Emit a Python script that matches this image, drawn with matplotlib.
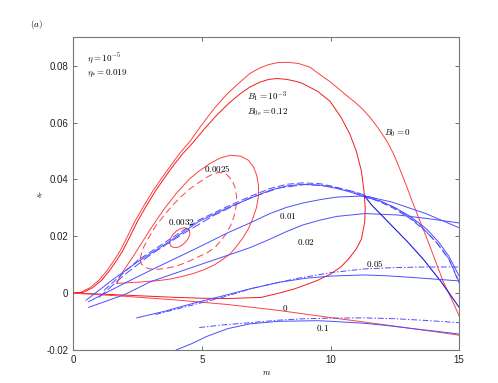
import matplotlib
matplotlib.use('Agg')
import matplotlib.pyplot as plt

plt.rcParams['mathtext.fontset'] = 'cm'
plt.rcParams['font.family'] = ['Liberation Sans', 'DejaVu Sans']

# red curves
m_b0 = [0, 0.3, 0.65, 1.0, 1.3, 1.55, 1.82, 2.1, 2.4, 2.75, 3.1, 3.45, 3.8, 4.15, 4.54,
        5.0, 5.5, 6.0, 6.45, 6.87, 7.25, 7.6, 7.95, 8.34, 8.75, 9.2, 9.6, 9.98, 10.3,
        10.6, 10.95, 11.26, 11.55, 11.85, 12.19, 12.45, 12.7, 12.95, 13.16, 13.45,
        13.74, 14.05, 14.37, 14.7, 15.0]
s_b0 = [0, 0.0003, 0.0019, 0.0045, 0.0078, 0.011, 0.0148, 0.0198, 0.0253, 0.0308,
        0.036, 0.0406, 0.045, 0.0493, 0.0534, 0.0593, 0.0652, 0.0702, 0.074, 0.0773,
        0.0792, 0.0804, 0.0811, 0.0812, 0.0808, 0.0795, 0.0768, 0.0744, 0.072, 0.0697,
        0.0672, 0.0646, 0.0617, 0.0581, 0.0535, 0.049, 0.0435, 0.0378, 0.0326, 0.026,
        0.0194, 0.012, 0.0043, -0.002, -0.008]

m_b1 = [0, 0.4, 0.75, 1.1, 1.4, 1.65, 1.92, 2.2, 2.5, 2.85, 3.2, 3.55, 3.9, 4.25, 4.64,
        5.1, 5.6, 6.1, 6.5, 6.87, 7.25, 7.6, 7.92, 8.3, 8.7, 8.9, 9.5, 9.98, 10.4, 10.75,
        11.0, 11.2, 11.3, 11.35, 11.33, 11.2, 11.0, 10.7, 10.4, 10.0, 9.5, 9.0, 8.6,
        8.0, 7.3, 6.0, 5.0, 4.0, 3.0, 2.0, 1.0, 0]
s_b1 = [0, 0.0003, 0.0019, 0.0045, 0.0078, 0.011, 0.0148, 0.0198, 0.0253, 0.0308,
        0.036, 0.0406, 0.045, 0.049, 0.0528, 0.0578, 0.0628, 0.0672, 0.0702, 0.0725,
        0.0742, 0.0752, 0.0755, 0.0752, 0.0744, 0.0738, 0.071, 0.0675, 0.062, 0.056,
        0.05, 0.043, 0.036, 0.03, 0.025, 0.019, 0.0155, 0.012, 0.0092, 0.0067, 0.0045,
        0.0028, 0.0015, 0.0, -0.0015, -0.0019, -0.0018, -0.0015, -0.0011, -0.0007,
        -0.0003, 0]

m_r25 = [1.7, 1.8, 2.0, 2.3, 2.65, 3.0, 3.5, 4.0, 4.5, 4.9, 5.3, 5.7, 6.1, 6.5, 6.8, 7.0,
         7.13, 7.2, 7.2, 7.12, 6.97, 6.8, 6.6, 6.35, 6.1, 5.8, 5.5, 5.1, 4.7, 4.2, 3.8,
         3.4, 3.0, 2.6, 2.2, 1.9, 1.7]
s_r25 = [0.0035, 0.0055, 0.0085, 0.0125, 0.0175, 0.0225, 0.0292, 0.035, 0.04, 0.043,
         0.0455, 0.0475, 0.0485, 0.0482, 0.0468, 0.0445, 0.0415, 0.038, 0.034, 0.03,
         0.026, 0.0225, 0.0195, 0.0165, 0.0138, 0.0118, 0.01, 0.0083, 0.007, 0.0058,
         0.005, 0.0045, 0.0042, 0.0039, 0.0037, 0.0035, 0.0035]

m_d25 = [2.6, 2.7, 2.9, 3.2, 3.5, 3.85, 4.2, 4.55, 4.9, 5.2, 5.45, 5.7, 5.95, 6.15, 6.28,
         6.35, 6.33, 6.25, 6.12, 5.95, 5.75, 5.5, 5.2, 4.8, 4.4, 4.0, 3.6, 3.3, 3.0, 2.8,
         2.65, 2.6]
s_d25 = [0.012, 0.0155, 0.019, 0.0235, 0.027, 0.0308, 0.034, 0.0368, 0.039, 0.0408,
         0.042, 0.0425, 0.0418, 0.04, 0.0375, 0.034, 0.0305, 0.027, 0.0238, 0.021,
         0.0185, 0.016, 0.0142, 0.0125, 0.0108, 0.0095, 0.0087, 0.0084, 0.0085, 0.009,
         0.0102, 0.012]

m_r32 = [3.75, 3.78, 3.88, 4.02, 4.18, 4.33, 4.45, 4.52, 4.53, 4.47, 4.36, 4.22, 4.06,
         3.92, 3.8, 3.75]
s_r32 = [0.0175, 0.0192, 0.0207, 0.0219, 0.0227, 0.023, 0.0227, 0.0219, 0.0206, 0.0192,
         0.0179, 0.0168, 0.0161, 0.016, 0.0165, 0.0175]

m_zero = [0, 2, 4, 6, 8, 10, 12, 14, 15]
s_zero = [0, -0.0011, -0.0024, -0.004, -0.0061, -0.0086, -0.011, -0.0135, -0.0148]

# blue curves
m_a1 = [0.5, 1.5, 2.5, 3.76, 4.9, 6.0, 6.87, 7.65, 8.3, 8.93, 9.6, 10.25, 10.8, 11.34,
        11.9, 12.42, 13.1, 13.74, 14.2, 14.6, 15.0]
s_a1 = [-0.0025, 0.0045, 0.011, 0.0183, 0.0253, 0.030, 0.0333, 0.0362, 0.0377, 0.0383,
        0.038, 0.0368, 0.0355, 0.0338, 0.0325, 0.0305, 0.027, 0.0225, 0.018, 0.013, 0.006]

m_a2 = [1.2, 2.5, 3.76, 4.9, 6.0, 6.87, 7.65, 8.3, 8.93, 9.6, 10.25, 10.8, 11.34, 11.9,
        12.42, 13.1, 13.74, 14.2, 14.6, 15.0]
s_a2 = [0.001, 0.0115, 0.019, 0.0258, 0.0305, 0.034, 0.0368, 0.0383, 0.0388, 0.0385,
        0.0372, 0.0358, 0.034, 0.0322, 0.03, 0.0262, 0.0215, 0.017, 0.012, 0.004]

m_a3 = [1.0, 2.0, 3.0, 4.2, 5.5, 6.87, 8.0, 9.0, 10.0, 11.0, 11.8, 12.6, 13.4, 14.1,
        14.6, 15.0]
s_a3 = [-0.0015, 0.0065, 0.0135, 0.0205, 0.0275, 0.0335, 0.037, 0.0382, 0.0376,
        0.0355, 0.033, 0.0295, 0.0245, 0.018, 0.012, 0.0035]

m_b = [0.6, 2.0, 3.0, 4.73, 6.0, 6.87, 7.65, 8.3, 8.93, 9.6, 10.25, 11.34, 12.4, 13.7,
       15.0]
s_b = [-0.003, 0.0035, 0.008, 0.0155, 0.0212, 0.0247, 0.028, 0.0302, 0.0317, 0.0329,
       0.0338, 0.0342, 0.032, 0.028, 0.023]

m_c = [0.6, 2.0, 3.0, 4.73, 6.0, 6.87, 7.65, 8.3, 8.93, 9.6, 10.25, 11.34, 12.6, 13.8,
       15.0]
s_c = [-0.005, -0.0005, 0.004, 0.0094, 0.0133, 0.016, 0.019, 0.0217, 0.024, 0.0257,
       0.027, 0.028, 0.0275, 0.0262, 0.0247]

m_k = [11.34, 11.6, 12.3, 13.0, 13.6, 14.3, 15.0]
s_k = [0.034, 0.031, 0.0245, 0.018, 0.012, 0.004, -0.005]

m_d = [2.47, 3.5, 4.7, 5.8, 6.87, 8.0, 9.0, 10.0, 11.3, 12.2, 13.2, 14.1, 15.0]
s_d = [-0.0087, -0.0065, -0.0035, -0.001, 0.0015, 0.0038, 0.0052, 0.006, 0.0064,
       0.0061, 0.0055, 0.0049, 0.0043]

m_d2 = [3.2, 4.5, 5.8, 7.0, 8.6, 10.0, 11.3, 12.5, 13.7, 15.0]
s_d2 = [-0.0075, -0.0045, -0.0015, 0.0018, 0.005, 0.0072, 0.0085, 0.009, 0.0092, 0.0092]

m_e1 = [4.0, 4.6, 5.2, 6.0, 6.87, 8.0, 9.5, 10.0, 11.3, 12.3, 13.2, 14.1, 15.0]
s_e1 = [-0.02, -0.0178, -0.0152, -0.0125, -0.0108, -0.0099, -0.0097, -0.0099, -0.0106,
        -0.0115, -0.0125, -0.0134, -0.0144]

m_e2 = [4.9, 5.8, 6.87, 8.0, 9.0, 10.0, 11.3, 12.5, 13.7, 15.0]
s_e2 = [-0.0121, -0.0112, -0.0104, -0.0095, -0.009, -0.0088, -0.0087, -0.009, -0.0096,
        -0.0104]

fig = plt.figure(figsize=(4.98, 3.83), dpi=100)
ax = fig.add_axes([0.147, 0.0862, 0.775, 0.8164])

red = (1.0, 0.25, 0.25)
blue = (0.3, 0.3, 1.0)
lw = 0.7

ax.plot(m_b0, s_b0, color=red, lw=lw)
ax.plot(m_b1, s_b1, color=(0.95, 0.1, 0.1), lw=lw)
ax.plot(m_r25, s_r25, color=red, lw=lw)
ax.plot(m_d25, s_d25, color=red, lw=lw, dashes=(7, 4))
ax.plot(m_r32, s_r32, color=red, lw=lw)
ax.plot(m_zero, s_zero, color=red, lw=lw)

ax.plot(m_a1, s_a1, color=blue, lw=lw)
ax.plot(m_a2, s_a2, color=blue, lw=lw, dashes=(7, 3))
ax.plot(m_a3, s_a3, color=blue, lw=lw, dashes=(9, 3))
ax.plot(m_b, s_b, color=blue, lw=lw)
ax.plot(m_c, s_c, color=blue, lw=lw)
ax.plot(m_k, s_k, color=(0.1, 0.1, 0.85), lw=0.8)
ax.plot(m_d, s_d, color=blue, lw=lw)
ax.plot(m_d2, s_d2, color=blue, lw=lw, dashes=(6, 2, 1.5, 2))
ax.plot(m_e1, s_e1, color=blue, lw=lw)
ax.plot(m_e2, s_e2, color=blue, lw=lw, dashes=(6, 2, 1.5, 2))

ax.set_xlim(0, 15)
ax.set_ylim(-0.02, 0.09)
ax.set_xticks([0, 5, 10, 15])
ax.set_yticks([-0.02, 0, 0.02, 0.04, 0.06, 0.08])
ax.set_xticklabels(['0', '5', '10', '15'])
ax.set_yticklabels(['-0.02', '0', '0.02', '0.04', '0.06', '0.08'])
ax.tick_params(direction='in', top=True, right=True, length=3, width=0.6,
               colors='#555555', labelcolor='#222222', labelsize=7)
for sp in ax.spines.values():
    sp.set_color('#777777')
    sp.set_linewidth(0.8)

ax.set_xlabel('$m$', fontsize=6)
ax.set_ylabel('$s_r$', fontsize=6)
ax.xaxis.set_label_coords(0.5, -0.06)
ax.yaxis.set_label_coords(-0.07, 0.5)

ts = 6.5
ax.text(0.54, 0.0826, r'$\eta = 10^{-5}$', fontsize=ts, va='center', ha='left')
ax.text(0.54, 0.0773, r'$\eta_{*} = 0.019$', fontsize=ts, va='center', ha='left')
ax.text(6.74, 0.069, r'$B_1 = 10^{-3}$', fontsize=ts, va='center', ha='left')
ax.text(6.74, 0.0636, r'$B_{0e} = 0.12$', fontsize=ts, va='center', ha='left')
ax.text(12.62, 0.0563, r'$B_0 = 0$', fontsize=ts, va='center', ha='center')
ax.text(5.58, 0.044, r'$0.0025$', fontsize=ts, va='center', ha='center')
ax.text(4.22, 0.025, r'$0.0032$', fontsize=ts, va='center', ha='center')
ax.text(8.35, 0.027, r'$0.01$', fontsize=ts, va='center', ha='center')
ax.text(9.05, 0.018, r'$0.02$', fontsize=ts, va='center', ha='center')
ax.text(11.72, 0.0103, r'$0.05$', fontsize=ts, va='center', ha='center')
ax.text(8.23, -0.0052, r'$0$', fontsize=ts, va='center', ha='center')
ax.text(9.7, -0.0121, r'$0.1$', fontsize=ts, va='center', ha='center')
fig.text(0.074, 0.937, r'$(a)$', fontsize=ts, va='center', ha='center')

fig.savefig('out.png', dpi=100)
